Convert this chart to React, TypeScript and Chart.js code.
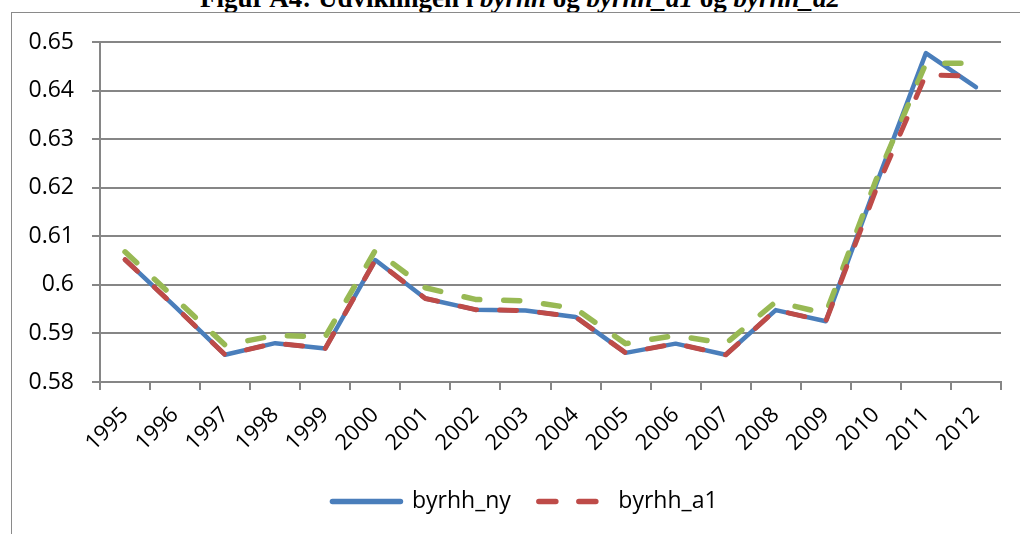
import React, { useEffect, useRef } from "react";
import { Chart, registerables } from "chart.js";
Chart.register(...registerables);

const years = ["1995", "1996", "1997", "1998", "1999", "2000", "2001", "2002", "2003", "2004", "2005", "2006", "2007", "2008", "2009", "2010", "2011", "2012"];
const byrhhNy = [0.6052, 0.5955, 0.5856, 0.5880, 0.5869, 0.6051, 0.5972, 0.5949, 0.5947, 0.5934, 0.5860, 0.5879, 0.5856, 0.5948, 0.5925, 0.6205, 0.6477, 0.6407];
const byrhhA1 = [0.6052, 0.5955, 0.5856, 0.5880, 0.5869, 0.6051, 0.5972, 0.5949, 0.5947, 0.5934, 0.5860, 0.5879, 0.5856, 0.5948, 0.5925, 0.6195, 0.6433, 0.6429];
const byrhhA2 = [0.6068, 0.5972, 0.5876, 0.5896, 0.5893, 0.6071, 0.5994, 0.5970, 0.5967, 0.5951, 0.5879, 0.5896, 0.5879, 0.5965, 0.5941, 0.6215, 0.6456, 0.6456];
const seriesNames = ["byrhh_ny", "byrhh_a1", "byrhh_a2"];
const yMin = 0.58;
const yMax = 0.65;
const yStep = 0.01;

const FONT = "'Open Sans', sans-serif";
const CANVAS_W = 1020;
const CANVAS_H = 523;
const PLOT_LEFT = 100;
const PLOT_RIGHT = 1001;
const PLOT_TOP = 42;
const X_AXIS_H = 80;
const LEGEND_SHIFT = 24.5;
const GRID = "#868686";

const legendShift = {
  id: "legendShift",
  afterLayout(chart: any) {
    if (chart.legend) {
      chart.legend.left += LEGEND_SHIFT;
      chart.legend.right += LEGEND_SHIFT;
    }
  },
};

export default function App() {
  const ref = useRef<HTMLCanvasElement>(null);
  useEffect(() => {
    if (!ref.current) return;
    const chart = new Chart(ref.current, {
      type: "line",
      plugins: [legendShift],
      data: {
        labels: years,
        datasets: [
          {
            label: seriesNames[0],
            data: byrhhNy,
            borderColor: "#4A7EBB",
            backgroundColor: "#4A7EBB",
            borderWidth: 4.5,
            borderCapStyle: "round",
            borderJoinStyle: "round",
            pointRadius: 0,
            tension: 0,
            order: 2,
          },
          {
            label: seriesNames[1],
            data: byrhhA1,
            borderColor: "#BE4B48",
            backgroundColor: "#BE4B48",
            borderWidth: 5,
            borderDash: [17, 23],
            borderCapStyle: "round",
            borderJoinStyle: "round",
            pointRadius: 0,
            tension: 0,
            order: 0,
          },
          {
            label: seriesNames[2],
            data: byrhhA2,
            borderColor: "#98B954",
            backgroundColor: "#98B954",
            borderWidth: 5.5,
            borderDash: [16, 24],
            borderCapStyle: "round",
            borderJoinStyle: "round",
            pointRadius: 0,
            tension: 0,
            order: 1,
          },
        ],
      },
      options: {
        responsive: false,
        animation: false,
        devicePixelRatio: 1,
        layout: {
          padding: { left: 0, right: CANVAS_W - PLOT_RIGHT, top: PLOT_TOP, bottom: 0 },
        },
        plugins: {
          title: { display: false },
          tooltip: { enabled: false },
          legend: {
            display: true,
            position: "bottom",
            labels: {
              usePointStyle: true,
              pointStyle: "line",
              pointStyleWidth: 68,
              color: "#000",
              padding: 28,
              font: { family: FONT, size: 23 },
              generateLabels: (c: any) =>
                (Chart.defaults as any).plugins.legend.labels.generateLabels(c).map((item: any) => {
                  const ds: any = c.data.datasets[item.datasetIndex];
                  return {
                    ...item,
                    lineDash: ds.borderDash || [],
                    lineCap: "round",
                    lineWidth: 5.5,
                    strokeStyle: ds.borderColor,
                  };
                }),
              filter: (item: any) => item.datasetIndex < 2,
              sort: (a: any, b: any) => a.datasetIndex - b.datasetIndex,
            },
          },
        },
        scales: {
          x: {
            type: "category",
            offset: true,
            afterFit: (s: any) => {
              s.height = X_AXIS_H;
            },
            grid: {
              display: true,
              offset: true,
              drawOnChartArea: false,
              drawTicks: true,
              tickLength: 8,
              color: GRID,
              lineWidth: 2,
            },
            border: { display: true, color: GRID, width: 2 },
            ticks: {
              autoSkip: false,
              maxRotation: 45,
              minRotation: 45,
              color: "#000",
              padding: 12,
              font: { family: FONT, size: 22 },
            },
          },
          y: {
            min: yMin,
            max: yMax,
            afterFit: (s: any) => {
              s.width = PLOT_LEFT;
            },
            grid: {
              color: GRID,
              lineWidth: 2,
              tickLength: 8,
              drawTicks: true,
            },
            border: { display: true, color: GRID, width: 2 },
            ticks: {
              stepSize: yStep,
              color: "#000",
              padding: 18,
              font: { family: FONT, size: 23 },
              callback: (v: any) => String(+Number(v).toFixed(2)),
            },
          },
        },
      },
    });
    return () => chart.destroy();
  }, []);

  return (
    <div style={{ position: "absolute", left: 0, top: 0, width: 1020, height: 534, overflow: "hidden", background: "#fff" }}>
      <div
        style={{
          position: "absolute",
          left: 0,
          top: -15.5,
          width: 1040,
          textAlign: "center",
          fontFamily: "'Liberation Serif', 'Times New Roman', serif",
          fontWeight: "bold",
          fontSize: 27,
          lineHeight: "27px",
          whiteSpace: "nowrap",
          color: "#000",
        }}
      >
        Figur A4: Udviklingen i <i>byrhh</i> og <i>byrhh_a1</i> og <i>byrhh_a2</i>
      </div>
      <div
        style={{
          position: "absolute",
          left: 11,
          top: 12,
          width: 1100,
          height: 600,
          border: "1px solid #8a8a8a",
          boxSizing: "border-box",
        }}
      />
      <canvas
        ref={ref}
        width={CANVAS_W}
        height={CANVAS_H}
        style={{ position: "absolute", left: 0, top: 0, width: CANVAS_W, height: CANVAS_H }}
      />
    </div>
  );
}
